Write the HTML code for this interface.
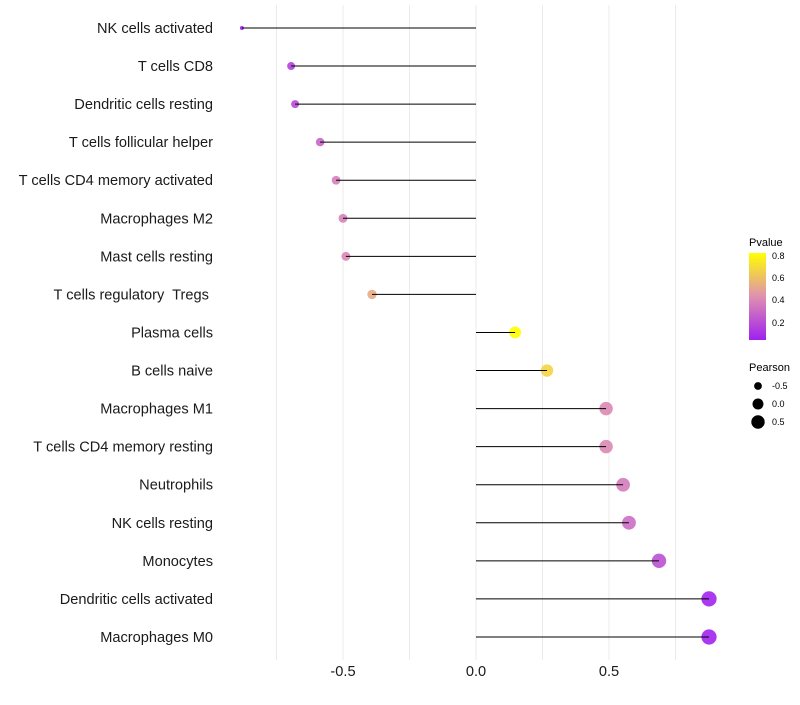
<!DOCTYPE html>
<html><head><meta charset="utf-8"><style>
body{margin:0;background:#fff;font-family:"Liberation Sans",sans-serif}
svg text{font-family:"Liberation Sans",sans-serif;white-space:pre}
</style></head><body>
<svg id="chart" width="800" height="700">
<defs><linearGradient id="pg" x1="0" y1="1" x2="0" y2="0">
<stop offset="0" stop-color="#a020f0"/><stop offset="0.5" stop-color="#df90b0"/><stop offset="1" stop-color="#ffff00"/>
</linearGradient></defs>
<g id="grid"></g><g id="points"></g><g id="marks"></g><g id="labels"></g><g id="xaxis"></g>
<g>
<text x="749" y="246" font-size="11">Pvalue</text>
<rect x="749" y="253" width="17" height="87" fill="url(#pg)"/>
<text x="772" y="259" font-size="9">0.8</text>
<text x="772" y="281" font-size="9">0.6</text>
<text x="772" y="303" font-size="9">0.4</text>
<text x="772" y="326" font-size="9">0.2</text>
</g>
<g>
<text x="749" y="371" font-size="11">Pearson</text>
<circle cx="758" cy="386" r="3.9"/><text x="772" y="389" font-size="9">-0.5</text>
<circle cx="758" cy="404" r="5.5"/><text x="772" y="407" font-size="9">0.0</text>
<circle cx="758" cy="422" r="6.7"/><text x="772" y="425" font-size="9">0.5</text>
</g>
</svg>
<script>
const categories=["NK cells activated","T cells CD8","Dendritic cells resting","T cells follicular helper","T cells CD4 memory activated","Macrophages M2","Mast cells resting","T cells regulatory  Tregs ","Plasma cells","B cells naive","Macrophages M1","T cells CD4 memory resting","Neutrophils","NK cells resting","Monocytes","Dendritic cells activated","Macrophages M0"];
const pearson=[-0.88,-0.695,-0.68,-0.586,-0.526,-0.5,-0.489,-0.391,0.147,0.267,0.489,0.489,0.553,0.575,0.688,0.876,0.876];
const pvalue=[0.03,0.15,0.18,0.27,0.36,0.37,0.39,0.52,0.81,0.66,0.4,0.4,0.35,0.3,0.2,0.04,0.04];
const xTicks=[-0.5,0,0.5];
const xTickLabels=["-0.5","0.0","0.5"];
const gridVals=[-0.75,-0.5,-0.25,0,0.25,0.5,0.75];
const NS="http://www.w3.org/2000/svg";
const X=v=>476+v*266;
const Y=i=>28+i*38.06;
const R=v=>v<-0.8?2:Math.max(2,5.6+2.3*v);
function lerp(a,b,t){return a.map((c,i)=>Math.round(c+(b[i]-c)*t));}
function col(p){const t=Math.min(1,Math.max(0,(p-0.03)/0.78));
 const a=[160,32,240],m=[223,144,176],b=[255,255,0];
 const c=t<0.5?lerp(a,m,t*2):lerp(m,b,(t-0.5)*2);return `rgb(${c})`;}
function mk(tag,attrs,parent){const e=document.createElementNS(NS,tag);for(const k in attrs)e.setAttribute(k,attrs[k]);document.getElementById(parent).appendChild(e);return e;}
gridVals.forEach(v=>{const l=mk('line',{x1:X(v),x2:X(v),y1:5,y2:660,stroke:'#ebebeb','stroke-width':1},'grid');

});
categories.forEach((c,i)=>{
 const t=mk('text',{x:213,y:Y(i)+5,'text-anchor':'end','font-size':14.6,fill:'#1a1a1a'},'labels');t.textContent=c;
 
 
 const p=mk('circle',{cx:X(pearson[i]),cy:Y(i),r:R(pearson[i]),fill:col(pvalue[i]),'fill-opacity':0.9},'points');
 
 
 const l=mk('line',{x1:X(0),x2:X(pearson[i]),y1:Y(i),y2:Y(i),stroke:'#000','stroke-width':1},'marks');
 
 
});
xTicks.forEach((v,i)=>{const t=mk('text',{x:X(v),y:676,'text-anchor':'middle','font-size':14.6,fill:'#1a1a1a'},'xaxis');t.textContent=xTickLabels[i];
 
 });
</script>
</body></html>
